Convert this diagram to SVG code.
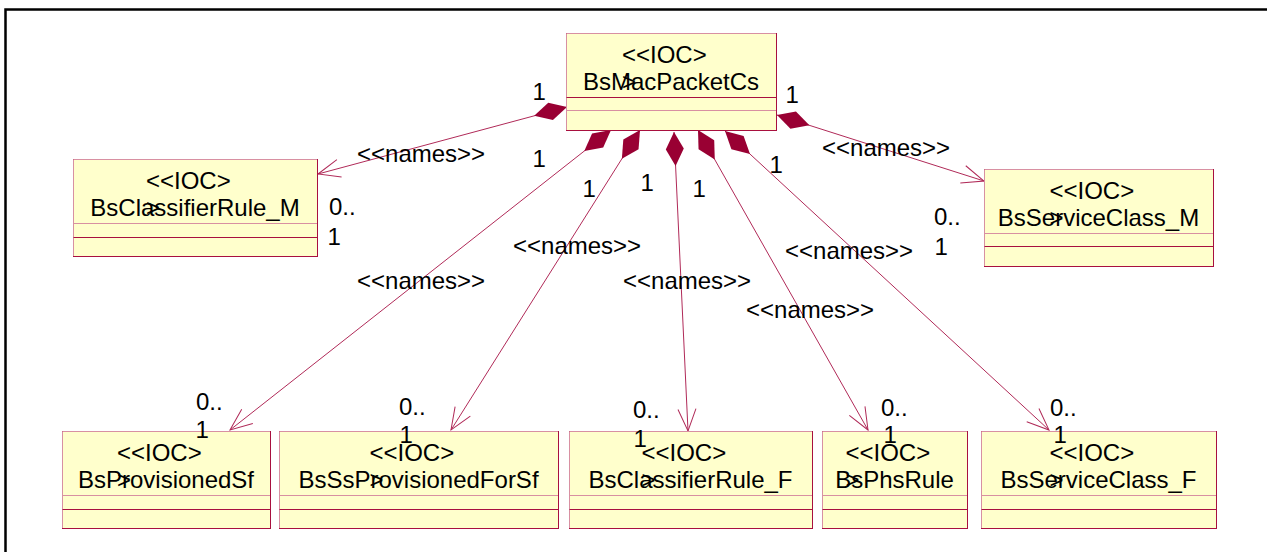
<svg xmlns="http://www.w3.org/2000/svg" width="1267" height="552" viewBox="0 0 1267 552">
<style>
text{font-family:"Liberation Sans",Arial,sans-serif;font-size:24px;fill:#000}
.box{fill:#ffffcc;stroke:#a8103f;stroke-width:1}
.lt{stroke:#d890a2;stroke-width:1;fill:none}
.dk{stroke:#a8103f;stroke-width:1;fill:none}
.c{fill:none;stroke:#b02a58;stroke-width:1}
.m{text-anchor:middle}
</style>
<defs>
<marker id="arrow" markerUnits="userSpaceOnUse" orient="auto" overflow="visible" markerWidth="1" markerHeight="1" refX="0" refY="0">
<path d="M-22,-9 L0,0 L-22,9" fill="none" stroke="#b02a58" stroke-width="1"/>
</marker>
<marker id="diamond" markerUnits="userSpaceOnUse" orient="auto" overflow="visible" markerWidth="1" markerHeight="1" refX="0" refY="0">
<path d="M0,0 L17,-9 L34,0 L17,9 Z" fill="#990033"/>
</marker>
</defs>
<rect width="1267" height="552" fill="#fff"/>
<path d="M5.5 552 V9.5 H1267" fill="none" stroke="#000" stroke-width="2.5"/>
<g id="connectors">
<path class="c" d="M567,107 L318,174" marker-start="url(#diamond)" marker-end="url(#arrow)"/>
<path class="c" d="M777,115 L984,181" marker-start="url(#diamond)" marker-end="url(#arrow)"/>
<path class="c" d="M611,130 L230,430" marker-start="url(#diamond)" marker-end="url(#arrow)"/>
<path class="c" d="M640,130 L451,430" marker-start="url(#diamond)" marker-end="url(#arrow)"/>
<path class="c" d="M674,132 L688,431" marker-start="url(#diamond)" marker-end="url(#arrow)"/>
<path class="c" d="M698,130 L868,430" marker-start="url(#diamond)" marker-end="url(#arrow)"/>
<path class="c" d="M725,131 L1049,430" marker-start="url(#diamond)" marker-end="url(#arrow)"/>
</g>
<g id="BsMacPacketCs">
<rect class="box" x="566.5" y="33.5" width="210" height="97"/>
<path class="lt" d="M566.5,130 V33.5 H776"/>
<path class="dk" d="M566.5,97.5 H776.5"/><path class="lt" d="M567,110.5 H776"/>
<text x="622" y="63">&lt;&lt;IOC&gt;</text>
<text class="m" x="671" y="90">BsMacPacketCs</text>
<text x="622" y="90">&gt;</text>
</g>
<g id="BsClassifierRule_M">
<rect class="box" x="73.5" y="159.5" width="244" height="97"/>
<path class="lt" d="M73.5,256 V159.5 H317"/>
<path class="lt" d="M74,223.5 H317"/><path class="dk" d="M73.5,237.5 H317.5"/>
<text x="146" y="189">&lt;&lt;IOC&gt;</text>
<text class="m" x="195" y="216">BsClassifierRule_M</text>
<text x="146" y="216">&gt;</text>
</g>
<g id="BsServiceClass_M">
<rect class="box" x="984.5" y="169.5" width="229" height="97"/>
<path class="lt" d="M984.5,266 V169.5 H1213"/>
<path class="lt" d="M985,233.5 H1213"/><path class="dk" d="M984.5,246.5 H1213.5"/>
<text x="1049.5" y="199">&lt;&lt;IOC&gt;</text>
<text class="m" x="1098.5" y="226">BsServiceClass_M</text>
<text x="1049.5" y="226">&gt;</text>
</g>
<g id="BsProvisionedSf">
<rect class="box" x="62.5" y="431.5" width="208" height="97"/>
<path class="lt" d="M62.5,528 V431.5 H270"/>
<path class="lt" d="M63,495.5 H270"/><path class="dk" d="M62.5,509.5 H270.5"/>
<text x="117" y="461">&lt;&lt;IOC&gt;</text>
<text class="m" x="166" y="488">BsProvisionedSf</text>
<text x="117" y="488">&gt;</text>
</g>
<g id="BsSsProvisionedForSf">
<rect class="box" x="279.5" y="431.5" width="279" height="97"/>
<path class="lt" d="M279.5,528 V431.5 H558"/>
<path class="lt" d="M280,495.5 H558"/><path class="dk" d="M279.5,509.5 H558.5"/>
<text x="369.5" y="461">&lt;&lt;IOC&gt;</text>
<text class="m" x="418.5" y="488">BsSsProvisionedForSf</text>
<text x="369.5" y="488">&gt;</text>
</g>
<g id="BsClassifierRule_F">
<rect class="box" x="569.5" y="431.5" width="243" height="97"/>
<path class="lt" d="M569.5,528 V431.5 H812"/>
<path class="lt" d="M570,495.5 H812"/><path class="dk" d="M569.5,509.5 H812.5"/>
<text x="641.5" y="461">&lt;&lt;IOC&gt;</text>
<text class="m" x="690.5" y="488">BsClassifierRule_F</text>
<text x="641.5" y="488">&gt;</text>
</g>
<g id="BsPhsRule">
<rect class="box" x="822.5" y="431.5" width="145" height="97"/>
<path class="lt" d="M822.5,528 V431.5 H967"/>
<path class="lt" d="M823,495.5 H967"/><path class="dk" d="M822.5,509.5 H967.5"/>
<text x="845.5" y="461">&lt;&lt;IOC&gt;</text>
<text class="m" x="894.5" y="488">BsPhsRule</text>
<text x="845.5" y="488">&gt;</text>
</g>
<g id="BsServiceClass_F">
<rect class="box" x="981.5" y="431.5" width="235" height="97"/>
<path class="lt" d="M981.5,528 V431.5 H1216"/>
<path class="lt" d="M982,495.5 H1216"/><path class="dk" d="M981.5,509.5 H1216.5"/>
<text x="1049.5" y="461">&lt;&lt;IOC&gt;</text>
<text class="m" x="1098.5" y="488">BsServiceClass_F</text>
<text x="1049.5" y="488">&gt;</text>
</g>
<g id="labels">
<text x="357" y="162">&lt;&lt;names&gt;&gt;</text>
<text x="822" y="156">&lt;&lt;names&gt;&gt;</text>
<text x="357" y="289">&lt;&lt;names&gt;&gt;</text>
<text x="513" y="254">&lt;&lt;names&gt;&gt;</text>
<text x="623" y="289">&lt;&lt;names&gt;&gt;</text>
<text x="746" y="318">&lt;&lt;names&gt;&gt;</text>
<text x="785" y="259">&lt;&lt;names&gt;&gt;</text>
<text x="532.5" y="100">1</text>
<text x="785.5" y="103">1</text>
<text x="532.5" y="167">1</text>
<text x="582.5" y="197">1</text>
<text x="640.5" y="191">1</text>
<text x="692.5" y="197">1</text>
<text x="769.5" y="173">1</text>
<text x="329" y="215">0..</text><text x="327.5" y="245">1</text>
<text x="934" y="225">0..</text><text x="934.5" y="255">1</text>
<text x="196" y="410">0..</text><text x="195.5" y="438">1</text>
<text x="399" y="415">0..</text><text x="399.5" y="443">1</text>
<text x="633" y="418">0..</text><text x="633.5" y="447">1</text>
<text x="881" y="416">0..</text><text x="883.5" y="443">1</text>
<text x="1050" y="416">0..</text><text x="1053.5" y="443">1</text>
</g>
</svg>
